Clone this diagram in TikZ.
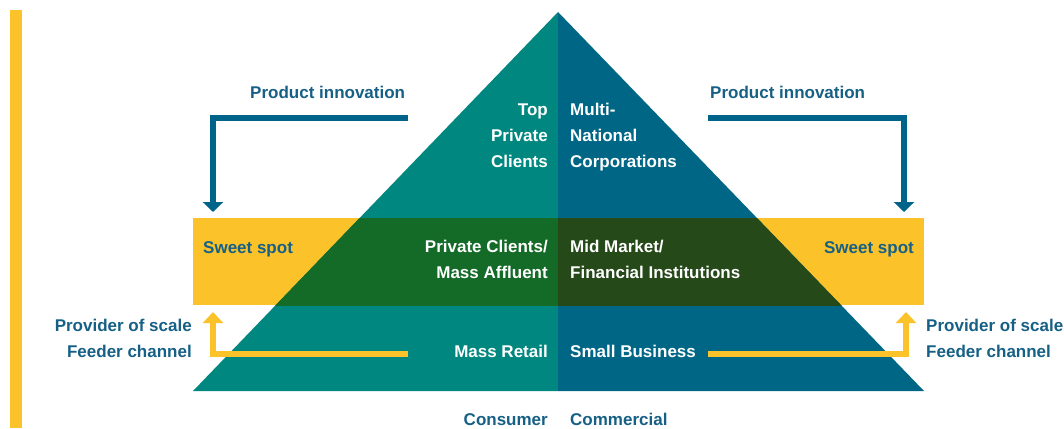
\documentclass[tikz,border=0pt]{standalone}
\usepackage{fontspec}
\setmainfont{Liberation Sans}
\usetikzlibrary{arrows.meta}
\definecolor{consteal}{RGB}{0,135,127}
\definecolor{commblue}{RGB}{0,102,133}
\definecolor{sweetyel}{RGB}{251,194,42}
\definecolor{consdark}{RGB}{19,107,39}
\definecolor{commdark}{RGB}{38,73,25}
\definecolor{labblue}{RGB}{22,96,134}
\definecolor{arrblue}{RGB}{0,100,138}
\tikzset{%
    lbl/.style={font=\bfseries\fontsize{17}{26}\selectfont,inner sep=0pt}
}

\begin{document}
\begin{tikzpicture}[
                x=1pt,y=-1pt,
                inl/.style={lbl,text=white,align=right,anchor=base east},
                inr/.style={lbl,text=white,align=left,anchor=base west},
                outl/.style={lbl,text=labblue,align=right,anchor=base east},
                outr/.style={lbl,text=labblue,align=left,anchor=base west},
                prodarr/.style={draw=arrblue,line width=6pt,-{Triangle[width=20pt,length=10pt]}},
                feedarr/.style={draw=sweetyel,line width=6pt,-{Triangle[width=20pt,length=11pt]}}
            ]
            \useasboundingbox (0,0) rectangle (1064,428);
            \fill[sweetyel] (10,10) rectangle (22,428);

            \coordinate (apex) at (558,12);
            \coordinate (bl) at (193,391);
            \coordinate (bm) at (558,391);
            \coordinate (br) at (924,391);

            \fill[sweetyel] (193,218) rectangle (924,305);
            \fill[consteal] (apex) -- (bl) -- (bm) -- cycle;
            \fill[commblue] (apex) -- (br) -- (bm) -- cycle;
            \begin{scope}
                \clip (193,218) rectangle (924,305);
                \fill[consdark] (apex) -- (bl) -- (bm) -- cycle;
                \fill[commdark] (apex) -- (br) -- (bm) -- cycle;
            \end{scope}

            \node[outr] (pinnL) at (250,98) {Product innovation};
            \node[outr] (pinnR) at (710,98) {Product innovation};
            \node[outr] (sweetL) at (203,253) {Sweet spot};
            \node[outl] (sweetR) at (914,253) {Sweet spot};
            \node[outl] (provL) at (192,357) {Provider of scale\\Feeder channel};
            \node[outr] (provR) at (926,357) {Provider of scale\\Feeder channel};

            \node[inl] (topL) at (548,167) {Top\\Private\\Clients};
            \node[inr] (topR) at (570,167) {Multi-\\National\\Corporations};
            \node[inl] (midL) at (548,278) {Private Clients/\\Mass Affluent};
            \node[inr] (midR) at (570,278) {Mid Market/\\Financial Institutions};
            \node[inl] (lowL) at (548,357) {Mass Retail};
            \node[inr] (lowR) at (570,357) {Small Business};
            \node[outl] (cons) at (548,425) {Consumer};
            \node[outr] (comm) at (570,425) {Commercial};

            \coordinate (piL) at (408,118);
            \coordinate (piR) at (708,118);
            \coordinate (ssL) at (213,212);
            \coordinate (ssR) at (904,212);
            \coordinate (fcL) at (408,354);
            \coordinate (fcR) at (708,354);
            \coordinate (sbL) at (213,312);
            \coordinate (sbR) at (906,312);

            \draw[prodarr] (piL) -| (ssL);
            \draw[prodarr] (piR) -| (ssR);
            \draw[feedarr] (fcL) -| (sbL);
            \draw[feedarr] (fcR) -| (sbR);
        \end{tikzpicture}
\end{document}
